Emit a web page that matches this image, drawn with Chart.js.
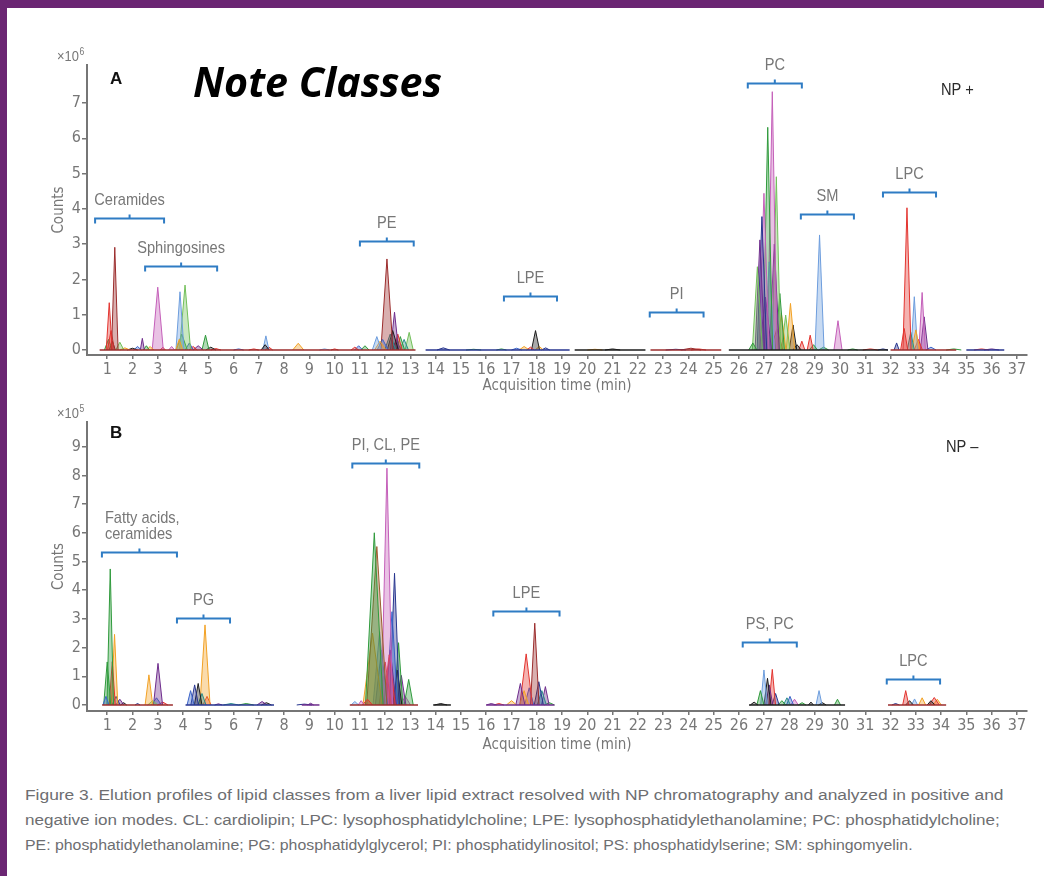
<!DOCTYPE html>
<html>
<head>
<meta charset="utf-8">
<script src="https://cdn.jsdelivr.net/npm/chart.js@4.4.1/dist/chart.umd.min.js"></script>
<style>
  html, body { margin: 0; padding: 0; background: #fff; }
  #page { position: relative; width: 1044px; height: 876px; overflow: hidden; background: #fff; }
  .frame-top { position: absolute; left: 0; top: 0; width: 1044px; height: 8px; background: #6b2673; }
  .frame-left { position: absolute; left: 0; top: 0; width: 7px; height: 876px; background: #6b2673; }
  canvas { position: absolute; left: 0; }
  #chartA { top: 0; }
  #chartB { top: 400px; }
  .caption { position: absolute; left: 25px; white-space: nowrap; color: #6d6e71;
             font-family: "Liberation Sans", Arial, sans-serif; font-size: 15.5px;
             transform-origin: 0 50%; }
</style>
</head>
<body>
<div id="page">
  <canvas id="chartA" width="1044" height="400"></canvas>
  <canvas id="chartB" width="1044" height="360"></canvas>
  <div class="caption" id="cap1">Figure 3. Elution profiles of lipid classes from a liver lipid extract resolved with NP chromatography and analyzed in positive and</div>
  <div class="caption" id="cap2">negative ion modes. CL: cardiolipin; LPC: lysophosphatidylcholine; LPE: lysophosphatidylethanolamine; PC: phosphatidylcholine;</div>
  <div class="caption" id="cap3">PE: phosphatidylethanolamine; PG: phosphatidylglycerol; PI: phosphatidylinositol; PS: phosphatidylserine; SM: sphingomyelin.</div>
  <div class="frame-top"></div>
  <div class="frame-left"></div>
</div>
<script>
// axis ticks (minutes, counts)
const ticksX = [1,2,3,4,5,6,7,8,9,10,11,12,13,14,15,16,17,18,19,20,21,22,23,24,25,26,27,28,29,30,31,32,33,34,35,36,37];
const ticksYA = [0,1,2,3,4,5,6,7];
const ticksYB = [0,1,2,3,4,5,6,7,8,9];

// peaks: [apex time (min), height, half base width (min), trace]
// panel A (NP+, x10^6 counts)
const ceramidesA = [
  [1.08,1.34,0.12,'red'],[1.30,2.91,0.13,'darkred'],[1.15,0.55,0.14,'red'],[1.05,0.30,0.16,'green'],
  [1.50,0.22,0.16,'lightgreen'],[1.20,0.25,0.12,'black'],[1.70,0.06,0.20,'orange'],[2.00,0.05,0.20,'black'],
  [2.20,0.10,0.15,'blue'],[2.39,0.33,0.08,'purple'],[2.55,0.12,0.12,'green'],[2.70,0.10,0.14,'orange']
];
const sphingosinesA = [
  [3.00,1.78,0.22,'pink'],[3.20,0.08,0.10,'red'],[3.55,0.10,0.12,'pink'],[3.85,0.30,0.14,'orange'],
  [3.88,1.65,0.16,'lightblue'],[4.08,1.84,0.22,'lightgreen'],[3.95,0.45,0.22,'green'],[4.25,0.20,0.16,'blue'],
  [4.40,0.10,0.16,'red'],[4.60,0.12,0.20,'purple'],[4.89,0.42,0.14,'green'],[5.10,0.08,0.20,'black'],
  [5.30,0.04,0.20,'red'],[6.20,0.03,0.20,'blue'],[6.80,0.03,0.20,'red'],[7.25,0.15,0.16,'black'],
  [7.28,0.40,0.12,'lightblue'],[7.40,0.08,0.15,'red'],[8.56,0.19,0.22,'orange'],[9.60,0.03,0.20,'lightblue'],
  [10.0,0.03,0.15,'red']
];
const peA = [
  [10.80,0.08,0.15,'red'],[10.95,0.12,0.16,'blue'],[11.20,0.12,0.16,'green'],[11.67,0.38,0.18,'lightblue'],
  [11.80,0.25,0.22,'orange'],[11.90,0.30,0.22,'blue'],[12.07,2.58,0.24,'darkred'],[12.20,0.45,0.22,'teal'],
  [12.30,0.55,0.22,'black'],[12.37,1.07,0.16,'purple'],[12.50,0.45,0.17,'red'],[12.60,0.38,0.17,'green'],
  [12.75,0.30,0.17,'teal'],[12.95,0.50,0.16,'lightgreen'],[12.45,0.30,0.17,'navy'],[14.30,0.06,0.25,'navy']
];
const lpePiA = [
  [15.50,0.02,0.30,'green'],[16.60,0.03,0.20,'green'],[17.20,0.05,0.20,'blue'],[17.50,0.10,0.20,'orange'],
  [17.75,0.08,0.15,'red'],[17.95,0.55,0.16,'black'],[18.10,0.10,0.16,'orange'],[18.35,0.06,0.16,'navy'],
  [20.30,0.02,0.30,'orange'],[21.00,0.03,0.30,'black'],[23.50,0.02,0.40,'navy'],[24.10,0.05,0.40,'darkred'],
  [24.40,0.03,0.30,'red']
];
const pcA = [
  [26.55,0.20,0.16,'green'],[26.73,2.36,0.20,'lightgreen'],[26.83,3.12,0.19,'purple'],[26.91,3.78,0.19,'navy'],
  [26.99,4.44,0.20,'pink'],[27.05,1.50,0.24,'purple'],[27.14,6.31,0.19,'green'],[27.20,2.50,0.20,'lightblue'],
  [27.32,7.32,0.19,'pink'],[27.40,3.00,0.20,'purple'],[27.48,4.91,0.17,'lightgreen'],[27.62,1.60,0.18,'green'],
  [27.68,1.04,0.18,'orange'],[27.85,0.99,0.17,'lightgreen'],[28.04,1.32,0.17,'orange'],[28.14,0.71,0.15,'black'],
  [27.50,0.60,0.24,'red'],[28.30,0.15,0.16,'black'],[28.49,0.25,0.12,'red'],[28.82,0.42,0.12,'red'],
  [28.95,0.15,0.16,'green']
];
const smA = [
  [29.19,3.26,0.18,'lightblue'],[29.35,0.08,0.20,'green'],[29.92,0.83,0.16,'pink'],[30.50,0.03,0.20,'green'],
  [31.20,0.03,0.30,'red'],[31.70,0.03,0.20,'navy']
];
const lpcA = [
  [32.24,0.20,0.10,'navy'],[32.54,0.61,0.14,'red'],[32.65,4.03,0.16,'red'],[32.80,0.50,0.14,'teal'],
  [33.00,0.57,0.16,'orange'],[32.94,1.51,0.13,'lightblue'],[33.10,0.30,0.16,'red'],[33.25,1.63,0.13,'pink'],
  [33.33,0.94,0.15,'purple'],[33.60,0.08,0.20,'blue'],[34.50,0.03,0.30,'green'],[35.60,0.03,0.30,'red'],
  [36.00,0.03,0.30,'purple']
];

// panel B (NP-, x10^5 counts)
const fattyAcidsB = [
  [0.95,0.30,0.12,'blue'],[1.00,1.50,0.14,'green'],[1.12,4.74,0.13,'green'],[1.20,1.51,0.12,'red'],
  [1.29,2.46,0.13,'orange'],[1.35,0.30,0.16,'navy'],[1.50,0.20,0.16,'purple'],[1.65,0.08,0.12,'black'],
  [2.20,0.05,0.10,'navy'],[2.65,1.05,0.15,'orange'],[2.80,0.15,0.20,'lightgreen'],[3.01,1.45,0.18,'purple'],
  [2.95,0.25,0.20,'blue'],[3.20,0.10,0.20,'red']
];
const pgB = [
  [4.30,0.50,0.14,'blue'],[4.46,0.70,0.15,'navy'],[4.60,0.75,0.15,'black'],[4.75,0.40,0.16,'teal'],
  [4.87,2.79,0.20,'orange'],[4.95,0.30,0.16,'red'],[5.40,0.04,0.15,'purple'],[5.90,0.05,0.30,'teal'],
  [6.50,0.05,0.30,'green'],[7.13,0.12,0.20,'purple'],[7.30,0.08,0.20,'black'],[8.80,0.03,0.30,'navy'],
  [9.05,0.06,0.12,'purple']
];
const piClPeB = [
  [10.80,0.12,0.15,'lightblue'],[11.05,0.15,0.12,'pink'],[11.30,0.20,0.20,'red'],[11.57,6.00,0.35,'green'],
  [11.67,5.52,0.40,'brown'],[11.50,2.50,0.38,'orange'],[11.78,2.55,0.26,'lightblue'],[11.85,1.90,0.24,'blue'],
  [12.07,8.25,0.22,'pink'],[12.00,1.50,0.24,'red'],[12.16,1.75,0.24,'red'],[12.20,1.92,0.24,'purple'],
  [12.27,3.25,0.22,'blue'],[12.37,4.59,0.20,'navy'],[12.48,1.22,0.18,'black'],[12.53,2.17,0.17,'green'],
  [12.64,1.03,0.18,'purple'],[12.93,0.89,0.18,'green'],[12.80,0.30,0.20,'pink'],[14.20,0.05,0.25,'black']
];
const lpeB = [
  [16.20,0.05,0.20,'purple'],[16.50,0.05,0.20,'red'],[17.00,0.15,0.20,'orange'],[17.35,0.75,0.18,'purple'],
  [17.50,0.50,0.18,'orange'],[17.58,1.78,0.25,'red'],[17.70,0.60,0.18,'blue'],[17.92,2.85,0.17,'darkred'],
  [18.08,0.81,0.18,'navy'],[18.20,0.50,0.18,'teal'],[18.34,0.64,0.15,'purple'],[18.50,0.08,0.20,'green']
];
const psPcB = [
  [26.60,0.10,0.15,'black'],[26.85,0.50,0.14,'green'],[26.99,1.22,0.13,'lightblue'],[27.13,0.93,0.14,'black'],
  [27.20,0.70,0.14,'purple'],[27.32,1.24,0.13,'red'],[27.45,0.40,0.14,'navy'],[27.70,0.15,0.15,'green'],
  [27.90,0.25,0.14,'teal'],[28.02,0.30,0.14,'blue'],[28.20,0.20,0.15,'pink'],[28.50,0.08,0.15,'green'],
  [28.85,0.10,0.10,'black'],[29.17,0.50,0.12,'lightblue'],[29.30,0.08,0.15,'black'],[29.90,0.20,0.12,'green']
];
const lpcB = [
  [32.20,0.05,0.15,'navy'],[32.60,0.50,0.12,'red'],[32.75,0.15,0.15,'black'],[32.95,0.21,0.12,'lightblue'],
  [33.25,0.25,0.14,'orange'],[33.60,0.15,0.15,'black'],[33.73,0.26,0.20,'red'],[33.85,0.20,0.16,'orange']
];

// baseline stretches where traces were recorded: [from, to, trace]
const baselineA = [[0.7,13.2,'darkred'],[13.6,19.3,'navy'],[19.5,22.3,'black'],[22.5,25.3,'darkred'],
                   [25.6,31.9,'black'],[32.0,34.6,'darkred'],[35.0,36.5,'navy']];
const baselineB = [[0.8,3.6,'darkred'],[4.1,7.6,'navy'],[8.7,9.4,'purple'],[10.6,13.3,'darkred'],
                   [13.9,14.6,'black'],[16.0,18.7,'purple'],[26.4,30.2,'black'],[31.9,34.2,'darkred']];

// class brackets: label, from/to (min), level (counts)
const bracketsA = [
  { label: 'Ceramides', from: 0.52, to: 3.25, level: 3.74 },
  { label: 'Sphingosines', from: 2.50, to: 5.35, level: 2.38 },
  { label: 'PE', from: 11.0, to: 13.13, level: 3.09 },
  { label: 'LPE', from: 16.7, to: 18.8, level: 1.53 },
  { label: 'PI', from: 22.47, to: 24.6, level: 1.07 },
  { label: 'PC', from: 26.35, to: 28.49, level: 7.58 },
  { label: 'SM', from: 28.45, to: 30.55, level: 3.85 },
  { label: 'LPC', from: 31.7, to: 33.8, level: 4.47 }
];
const bracketsB = [
  { label: 'Fatty acids,\nceramides', from: 0.79, to: 3.76, level: 5.34 },
  { label: 'PG', from: 3.76, to: 5.86, level: 3.03 },
  { label: 'PI, CL, PE', from: 10.7, to: 13.35, level: 8.43 },
  { label: 'LPE', from: 16.28, to: 18.9, level: 3.27 },
  { label: 'PS, PC', from: 26.15, to: 28.29, level: 2.21 },
  { label: 'LPC', from: 31.85, to: 33.96, level: 0.9 }
];

const palette = {
  red: '#e3342f', darkred: '#9b2c2c', brown: '#9a5b2e', pink: '#c45fb9', purple: '#6e2c8c',
  blue: '#3a63c8', lightblue: '#6d9ddd', navy: '#27358f', green: '#2f9a3c', lightgreen: '#72bf5a',
  orange: '#f2a124', black: '#1c1c1c', teal: '#2b8b8b'
};
const condensed = '"DejaVu Sans Condensed", "DejaVu Sans", sans-serif';
const narrowBase = '"Liberation Sans", Arial, sans-serif';   // squeezed to look like a narrow face
const squeeze = 0.86;
const axisColor = '#767676';
const textGray = '#777777';
const bracketBlue = '#2f7cc4';

function withAlpha(hex, a) {
  const n = parseInt(hex.slice(1), 16);
  return 'rgba(' + (n >> 16) + ',' + ((n >> 8) & 255) + ',' + (n & 255) + ',' + a + ')';
}

function peakDatasets(groups) {
  const out = [];
  groups.forEach(g => g.forEach(p => {
    const c = palette[p[3]];
    out.push({
      data: [{ x: p[0] - p[2], y: 0 }, { x: p[0], y: p[1] }, { x: p[0] + p[2], y: 0 }],
      borderColor: c, backgroundColor: withAlpha(c, 0.38), borderWidth: 1, fill: 'origin'
    });
  }));
  return out;
}

function baselineDatasets(segs) {
  return segs.map(s => ({
    data: [{ x: s[0], y: 0 }, { x: s[1], y: 0 }],
    borderColor: palette[s[2]], borderWidth: 1.5, fill: false
  }));
}

function narrowText(ctx, text, x, y, align, sx) {
  ctx.save();
  ctx.translate(x, y);
  ctx.scale(sx, 1);
  ctx.textAlign = align;
  ctx.fillText(text, 0, 0);
  const w = ctx.measureText(text).width * sx;
  ctx.restore();
  return w;
}

// brackets, labels and panel texts
const notesPlugin = {
  id: 'notes',
  afterDraw(chart, args, opts) {
    const ctx = chart.ctx, x = chart.scales.x, y = chart.scales.y;
    ctx.save();
    (opts.brackets || []).forEach(b => {
      const x0 = x.getPixelForValue(b.from), x1 = x.getPixelForValue(b.to);
      const yy = Math.round(y.getPixelForValue(b.level)) + 0.5;
      const xm = (x0 + x1) / 2;
      ctx.strokeStyle = bracketBlue;
      ctx.lineWidth = 2;
      ctx.beginPath();
      ctx.moveTo(x0, yy + 5); ctx.lineTo(x0, yy); ctx.lineTo(x1, yy); ctx.lineTo(x1, yy + 5);
      ctx.moveTo(xm, yy); ctx.lineTo(xm, yy - 4);
      ctx.stroke();
      ctx.fillStyle = textGray;
      ctx.font = '17px ' + narrowBase;
      ctx.textBaseline = 'middle';
      const lines = b.label.split('\n');
      if (lines.length > 1) {
        lines.forEach((l, i) => narrowText(ctx, l, x0 + 3, yy - 18 - (lines.length - 1 - i) * 16, 'left', squeeze));
      } else {
        narrowText(ctx, b.label, xm, yy - 18, 'center', squeeze);
      }
    });
    ctx.textBaseline = 'alphabetic';
    (opts.texts || []).forEach(t => {
      ctx.font = t.font;
      ctx.fillStyle = t.color;
      if (t.fitWidth) {
        const w = ctx.measureText(t.text).width;
        const px = parseFloat(t.font.match(/(\d+(\.\d+)?)px/)[1]);
        ctx.font = t.font.replace(/\d+(\.\d+)?px/, (px * t.fitWidth / w).toFixed(1) + 'px');
      }
      const w = narrowText(ctx, t.text, t.x, t.y, 'left', t.sx || 1);
      if (t.sup) {
        ctx.font = '10px ' + narrowBase;
        narrowText(ctx, t.sup, t.x + w + 0.5, t.y - 6, 'left', t.sx || 1);
      }
    });
    ctx.restore();
  }
};

function makeChart(id, cfg) {
  return new Chart(document.getElementById(id), {
    type: 'line',
    data: { datasets: cfg.datasets },
    options: {
      responsive: false,
      animation: false,
      devicePixelRatio: 1,
      layout: { padding: cfg.padding },
      elements: { point: { radius: 0 }, line: { tension: 0 } },
      plugins: { legend: { display: false }, tooltip: { enabled: false }, notes: cfg.notes },
      scales: {
        x: {
          type: 'linear', min: 0.2, max: 37.4,
          afterBuildTicks: s => { s.ticks = ticksX.map(v => ({ value: v })); },
          afterFit: s => { s.height = cfg.xHeight; },
          grid: { display: true, drawOnChartArea: false, drawTicks: true, tickLength: 4, color: axisColor, lineWidth: 1.5 },
          border: { display: true, color: axisColor, width: 2 },
          ticks: { color: textGray, font: { family: condensed, size: 16 }, padding: 1, maxRotation: 0, autoSkip: false },
          title: { display: true, text: 'Acquisition time (min)', color: textGray,
                   font: { family: condensed, size: 15 }, padding: { top: 0, bottom: cfg.titlePad } }
        },
        y: {
          min: cfg.yMin, max: cfg.yMax,
          afterBuildTicks: s => { s.ticks = cfg.yTicks.map(v => ({ value: v })); },
          afterFit: s => { s.width = 41; },
          grid: { display: true, drawOnChartArea: false, drawTicks: true, tickLength: 5, color: axisColor, lineWidth: 1.5 },
          border: { display: true, color: axisColor, width: 2 },
          ticks: { color: textGray, font: { family: condensed, size: 16 }, padding: 1 },
          title: { display: true, text: 'Counts', color: textGray,
                   font: { family: condensed, size: 15 }, padding: { top: 4, bottom: 0 } }
        }
      }
    },
    plugins: [notesPlugin]
  });
}

makeChart('chartA', {
  datasets: baselineDatasets(baselineA).concat(peakDatasets([ceramidesA, sphingosinesA, peA, lpePiA, pcA, smA, lpcA])),
  padding: { left: 46, right: 17, top: 65, bottom: 0 },
  xHeight: 45, titlePad: 5,
  yMin: -0.142, yMax: 8.076, yTicks: ticksYA,
  notes: {
    brackets: bracketsA,
    texts: [
      { text: '×10', sup: '6', x: 57, y: 61, font: '15px ' + narrowBase, color: textGray, sx: squeeze },
      { text: 'A', x: 110, y: 84, font: 'bold 17px ' + narrowBase, color: '#111' },
      { text: 'Note Classes', x: 193, y: 97, font: 'italic bold 36px "Open Sans", Lato, sans-serif', color: '#000', fitWidth: 249 },
      { text: 'NP +', x: 941, y: 95, font: '17px ' + narrowBase, color: '#2a2a2a', sx: squeeze }
    ]
  }
});

makeChart('chartB', {
  datasets: baselineDatasets(baselineB).concat(peakDatasets([fattyAcidsB, pgB, piClPeB, lpeB, psPcB, lpcB])),
  padding: { left: 46, right: 17, top: 22, bottom: 0 },
  xHeight: 49, titlePad: 6,
  yMin: -0.21, yMax: 9.86, yTicks: ticksYB,
  notes: {
    brackets: bracketsB,
    texts: [
      { text: '×10', sup: '5', x: 57, y: 18, font: '15px ' + narrowBase, color: textGray, sx: squeeze },
      { text: 'B', x: 110, y: 38, font: 'bold 17px ' + narrowBase, color: '#111' },
      { text: 'NP –', x: 946, y: 52, font: '17px ' + narrowBase, color: '#2a2a2a', sx: squeeze }
    ]
  }
});

const captionRows = [795, 820, 845];
const captionWidths = [978, 975, 888];
['cap1', 'cap2', 'cap3'].forEach((id, i) => {
  const el = document.getElementById(id);
  el.style.top = (captionRows[i] - el.offsetHeight / 2) + 'px';
  el.style.transform = 'scaleX(' + (captionWidths[i] / el.offsetWidth).toFixed(4) + ')';
});
</script>
</body>
</html>
